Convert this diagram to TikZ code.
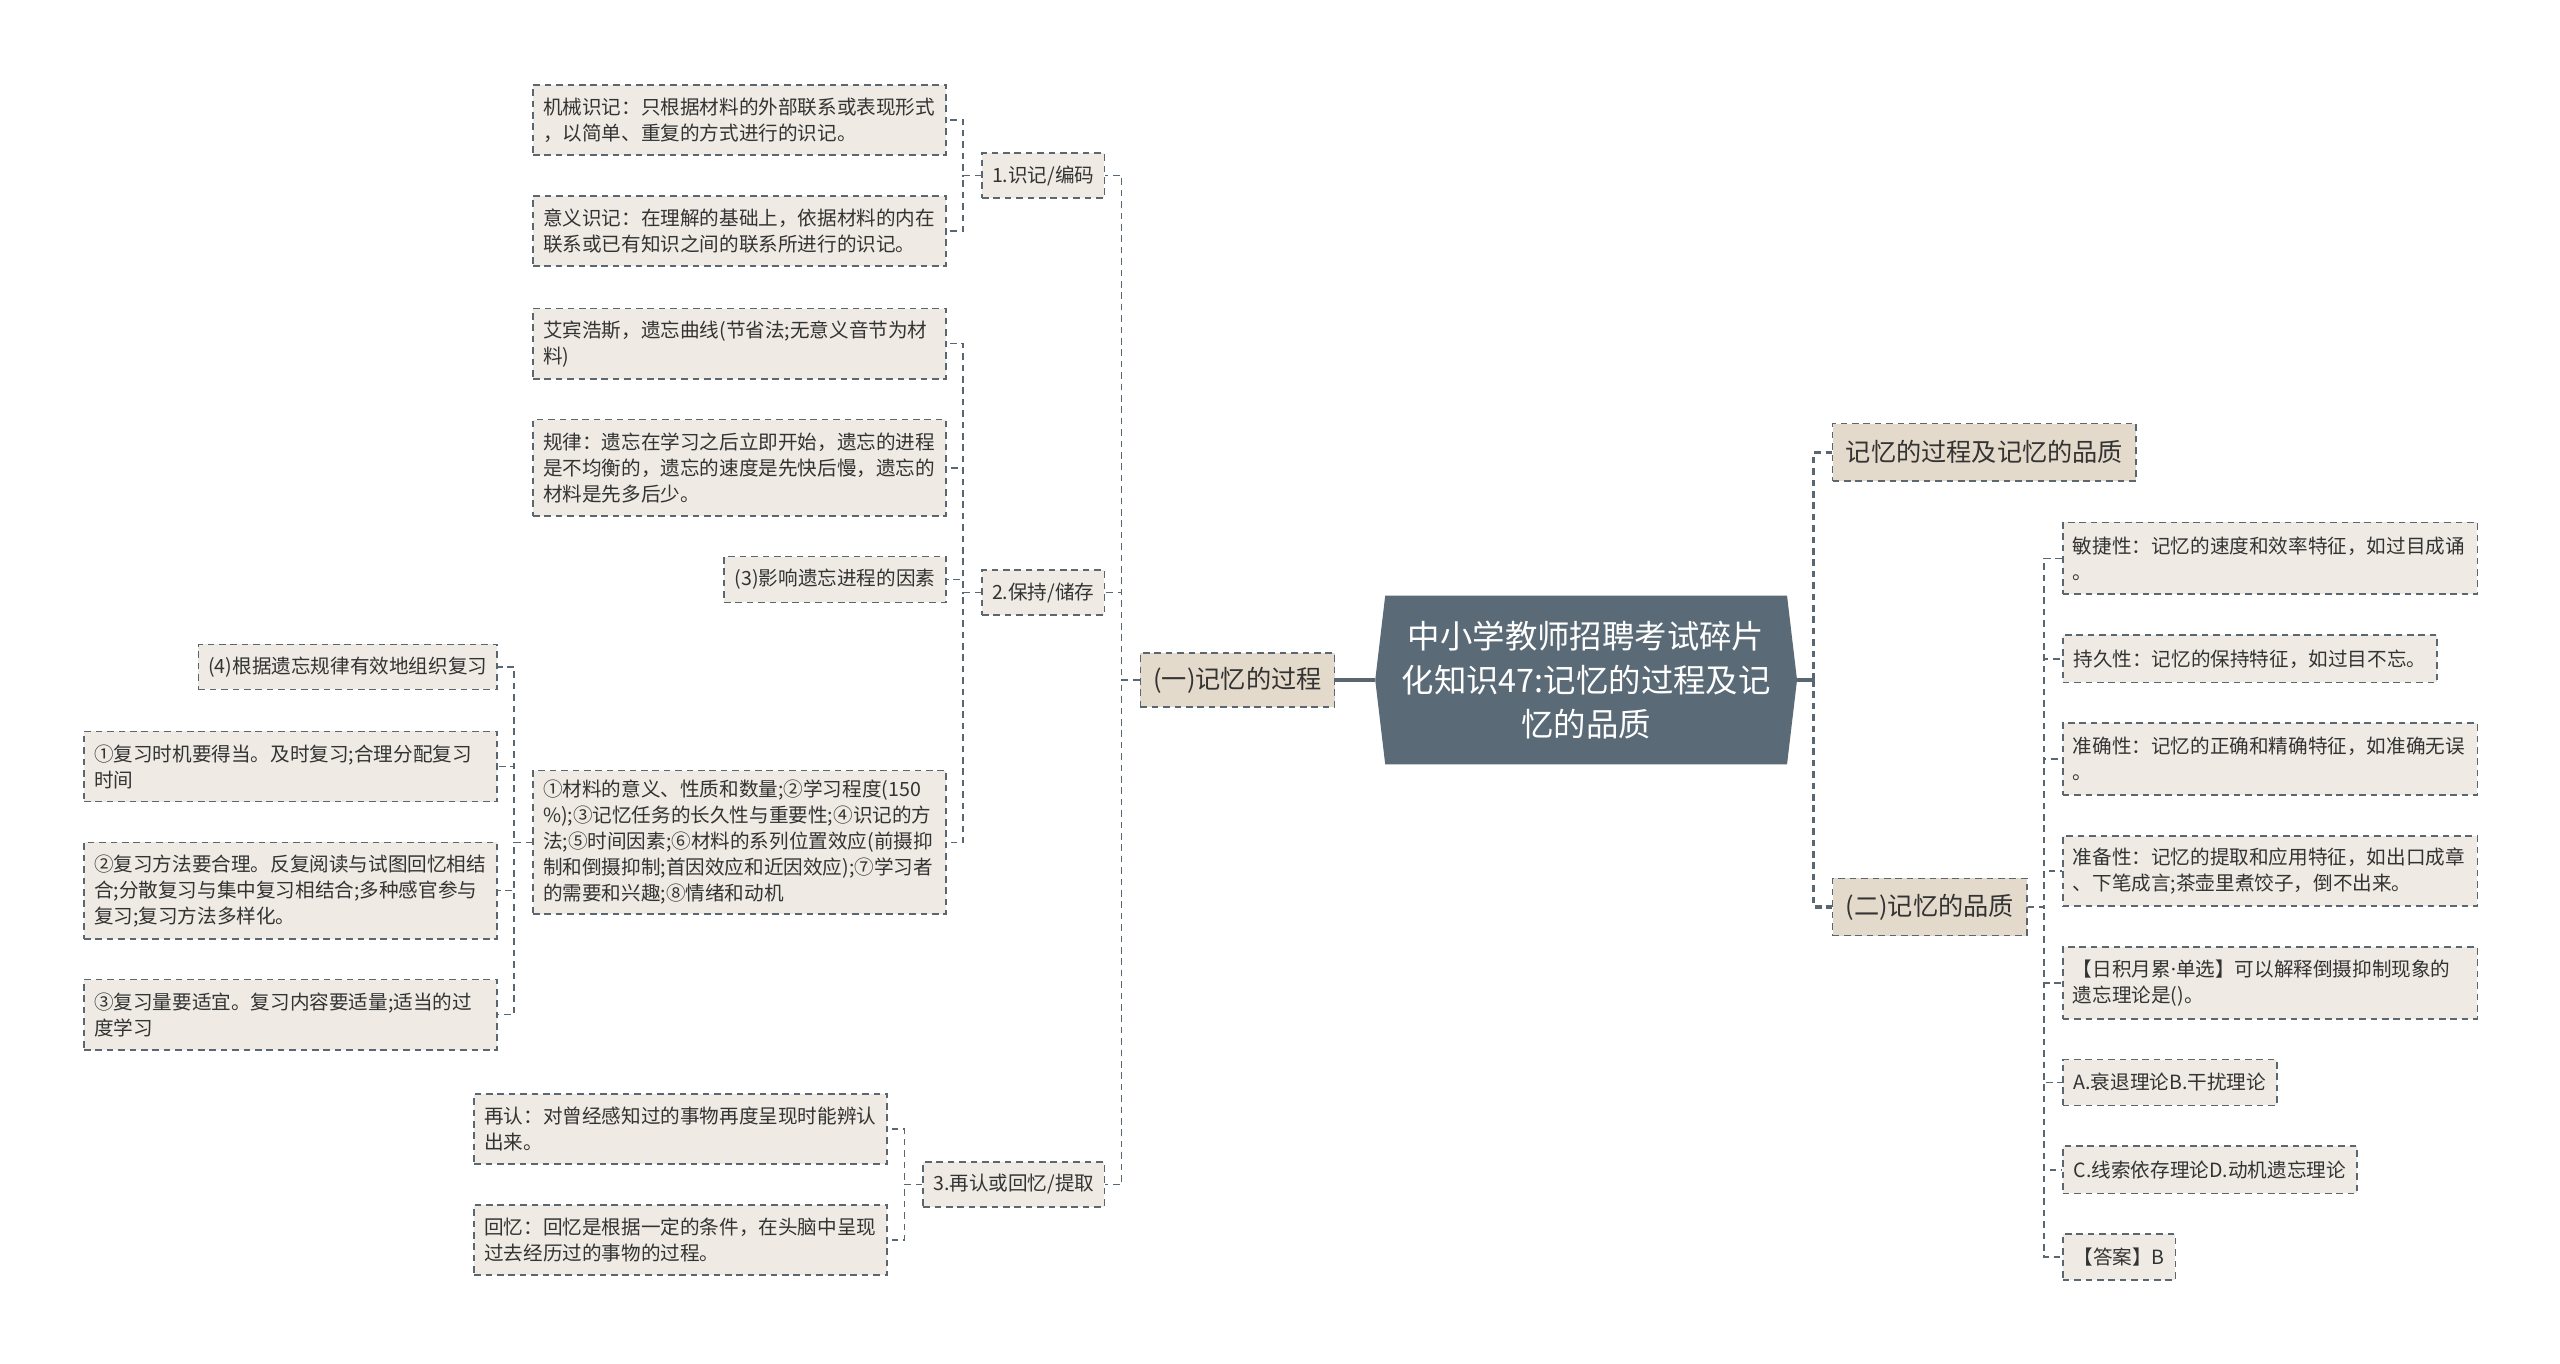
\documentclass[tikz,border=0pt]{standalone}
\usepackage{fontspec}
\newfontfamily\cjk{Noto Sans CJK SC}
\newfontfamily\latinf{Noto Sans}
\usepackage{tikz}
\usetikzlibrary{positioning,backgrounds}

\definecolor{linec}{HTML}{5A6670}
\definecolor{leaffill}{HTML}{EFEBE4}
\definecolor{topicfill}{HTML}{E3DACC}
\definecolor{rootfill}{HTML}{5A6B77}
\definecolor{textc}{HTML}{333333}

\tikzset{
  box/.style={draw=linec, line width=0.8pt, dash pattern=on 3.3pt off 2.4pt, text=textc,
    inner xsep=5pt, inner ysep=2pt, anchor=west},
  leaf/.style={box, fill=leaffill, align=left, font=\cjk\fontsize{9.8}{13}\selectfont},
  topic/.style={box, fill=topicfill, font=\cjk\fontsize{12.6}{16}\selectfont, inner xsep=6pt},
  rootnode/.style={text=white, align=center, font=\cjk\fontsize{16.2}{22}\selectfont,
    minimum width=210.5pt, minimum height=84pt},
  link/.style={draw=linec, line width=0.8pt, dash pattern=on 3.3pt off 2.4pt},
  mainlink/.style={draw=linec, line width=1.6pt}
}

\begin{document}
\begin{tikzpicture}[x=0.8163pt,y=-0.8163pt]
\useasboundingbox (0,0) rectangle (1568,835);

% centre
\node[rootnode] (root) at (971.5,416.5) {中小学教师招聘考试碎片\\化知识47:记忆的过程及记\\忆的品质};
\begin{scope}[on background layer]
  \fill[rootfill] ([xshift=5pt]root.north west) -- (root.west) -- ([xshift=5pt]root.south west)
    -- ([xshift=-5pt]root.south east) -- (root.east) -- ([xshift=-5pt]root.north east) -- cycle;
\end{scope}

% level 1
\node[topic, minimum width=97.1pt, minimum height=27pt] (proc) at (698,416.5) {(一)记忆的过程};
\node[topic, minimum width=151.8pt, minimum height=28.6pt] (title) at (1122,277) {记忆的过程及记忆的品质};
\node[topic, minimum width=97.1pt, minimum height=28.6pt] (qual) at (1122,555.5) {(二)记忆的品质};

% process stages
\node[leaf, minimum width=61.2pt, minimum height=22.5pt] (enc) at (601,107.5) {1.识记/编码};
\node[leaf, minimum width=61.2pt, minimum height=22.5pt] (keep) at (601,363) {2.保持/储存};
\node[leaf, minimum width=90.6pt, minimum height=22.5pt] (recall) at (565,725.5) {3.再认或回忆/提取};

% 1. encoding
\node[leaf, text width=196.5pt, minimum height=35.1pt] (mech) at (326,73.5) {机械识记：只根据材料的外部联系或表现形式\\，以简单、重复的方式进行的识记。};
\node[leaf, text width=196.5pt, minimum height=35.1pt] (mean) at (326,141.5) {意义识记：在理解的基础上，依据材料的内在\\联系或已有知识之间的联系所进行的识记。};

% 2. retention
\node[leaf, text width=196.5pt, minimum height=35.1pt] (ebb) at (326,210.5) {艾宾浩斯，遗忘曲线(节省法;无意义音节为材\\料)};
\node[leaf, text width=196.5pt, minimum height=48.2pt] (law) at (326,286.5) {规律：遗忘在学习之后立即开始，遗忘的进程\\是不均衡的，遗忘的速度是先快后慢，遗忘的\\材料是先多后少。};
\node[leaf, minimum width=111pt, minimum height=22.9pt] (factor) at (443,355) {(3)影响遗忘进程的因素};
\node[leaf, text width=196.5pt, minimum height=71.8pt] (items) at (326,516) {①材料的意义、性质和数量;②学习程度(150\\\%);③记忆任务的长久性与重要性;④识记的方\\法;⑤时间因素;⑥材料的系列位置效应(前摄抑\\制和倒摄抑制;首因效应和近因效应);⑦学习者\\的需要和兴趣;⑧情绪和动机};

% review
\node[leaf, minimum width=149.4pt, minimum height=22.5pt] (rev) at (121,408.5) {(4)根据遗忘规律有效地组织复习};
\node[leaf, text width=196.5pt, minimum height=35.1pt] (rev1) at (51,469.5) {①复习时机要得当。及时复习;合理分配复习\\时间};
\node[leaf, text width=196.5pt, minimum height=48.2pt] (rev2) at (51,545.5) {②复习方法要合理。反复阅读与试图回忆相结\\合;分散复习与集中复习相结合;多种感官参与\\复习;复习方法多样化。};
\node[leaf, text width=196.5pt, minimum height=35.1pt] (rev3) at (51,621.5) {③复习量要适宜。复习内容要适量;适当的过\\度学习};

% 3. retrieval
\node[leaf, text width=196.5pt, minimum height=35.1pt] (recog) at (290,691.5) {再认：对曾经感知过的事物再度呈现时能辨认\\出来。};
\node[leaf, text width=196.5pt, minimum height=35.1pt] (recol) at (290,759.5) {回忆：回忆是根据一定的条件，在头脑中呈现\\过去经历过的事物的过程。};

% qualities
\node[leaf, text width=197.3pt, minimum height=35.9pt] (q1) at (1263,342) {敏捷性：记忆的速度和效率特征，如过目成诵\\。};
\node[leaf, minimum width=187pt, minimum height=23.7pt] (q2) at (1263,403.5) {持久性：记忆的保持特征，如过目不忘。};
\node[leaf, text width=197.3pt, minimum height=35.9pt] (q3) at (1263,465) {准确性：记忆的正确和精确特征，如准确无误\\。};
\node[leaf, text width=197.3pt, minimum height=35.1pt] (q4) at (1263,533.5) {准备性：记忆的提取和应用特征，如出口成章\\、下笔成言;茶壶里煮饺子，倒不出来。};
\node[leaf, text width=197.3pt, minimum height=35.9pt] (q5) at (1263,602) {【日积月累{\latinf ·}单选】可以解释倒摄抑制现象的\\遗忘理论是()。};
\node[leaf, minimum width=107pt, minimum height=22.9pt] (q6) at (1263,663) {A.衰退理论B.干扰理论};
\node[leaf, minimum width=147pt, minimum height=23.7pt] (q7) at (1263,716.5) {C.线索依存理论D.动机遗忘理论};
\node[leaf, minimum width=56.3pt, minimum height=22.9pt] (q8) at (1263,770) {【答案】B};

% connectors
\coordinate (fork) at (1111,416.5);
\draw[mainlink] (root.west) -- (proc.east);
\draw[mainlink] (root.east) -- (fork);
\draw[mainlink, dash pattern=on 3.3pt off 2.4pt] (fork) |- (title.west);
\draw[mainlink, dash pattern=on 3.3pt off 2.4pt] (fork) |- (qual.west);

\foreach \n in {enc,keep,recall} \draw[link] (proc.west) -- ++(-11,0) |- (\n.east);
\foreach \n in {mech,mean} \draw[link] (enc.west) -- ++(-11,0) |- (\n.east);
\foreach \n in {ebb,law,factor,items} \draw[link] (keep.west) -- ++(-11,0) |- (\n.east);
\foreach \n in {rev,rev1,rev2,rev3} \draw[link] (items.west) -- ++(-11,0) |- (\n.east);
\foreach \n in {recog,recol} \draw[link] (recall.west) -- ++(-11,0) |- (\n.east);
\foreach \n in {q1,q2,q3,q4,q5,q6,q7,q8} \draw[link] (qual.east) -- ++(10,0) |- (\n.west);
\end{tikzpicture}
\end{document}
